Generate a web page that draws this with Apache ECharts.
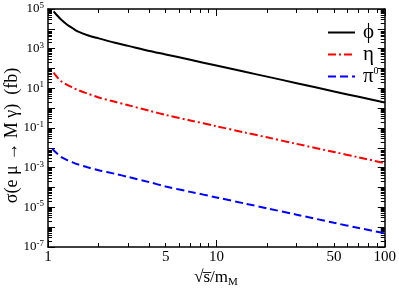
<!DOCTYPE html>
<html><head><meta charset="utf-8">
<script src="https://cdn.jsdelivr.net/npm/echarts@6/dist/echarts.min.js"></script>
<style>html,body{margin:0;padding:0;background:#fff}#c{width:399px;height:290px}</style>
</head><body><div id="c"></div>
<script>
// x = sqrt(s)/m_M
const xMain = [1.08,1.1,1.15,1.2,1.3,1.4,1.5,1.7,2,2.5,3,4,5,7,10,15,20,30,50,70,100];
const phiValues = [75900,63100,41700,28800,16200,10700,7410,4900,3310,2000,1380,759,513,275,141,66,38.9,18.2,6.92,3.72,1.91];
const etaValues = [63.1,50.1,31.6,22.4,15.1,11.0,8.32,5.62,3.47,2.09,1.41,0.741,0.457,0.240,0.123,0.0575,0.0339,0.0158,0.00617,0.00331,0.0017];
const xPi = [1.06,1.08,1.1,1.15,1.2,1.3,1.4,1.5,1.7,2,2.5,3,4,5,7,10,15,20,30,50,70,100];
const piValues = [0.00912,0.00759,0.00646,0.00457,0.00339,0.0024,0.00186,0.00148,0.00107,7.41e-4,4.90e-4,3.39e-4,1.86e-4,1.12e-4,6.03e-5,3.16e-5,1.51e-5,8.91e-6,4.27e-6,1.66e-6,9.12e-7,4.90e-7];

const seriesNames = ['ϕ','η','π0'];
const xTickLabels = [1,5,10,50,100];
const xMajorTicks = [1,10,100];
const yTickLabels = [1e-7,1e-5,1e-3,1e-1,1e1,1e3,1e5];

const yMajorTicks = [];
const yMinorTicks = [];
for (let n = -7; n <= 5; n++) {
  yMajorTicks.push(Math.pow(10, n));
  if (n < 5) for (let k = 2; k <= 9; k++) yMinorTicks.push(k * Math.pow(10, n));
}
const xMinorTicks = [];
for (let n = 0; n < 2; n++) for (let k = 2; k <= 9; k++) xMinorTicks.push(k * Math.pow(10, n));

const serif = 'Liberation Serif';
const pair = (xs, ys) => xs.map((x, i) => [x, ys[i]]);

function xAx(pos, ticks, len, labels) {
  return {
    type: 'log', min: 1, max: 100, position: pos, gridIndex: 0,
    axisLine: { show: len > 5, lineStyle: { color: '#000', width: 1.5 } },
    axisTick: { show: true, inside: true, length: len, customValues: ticks, lineStyle: { color: '#000', width: 1 } },
    axisLabel: labels ? { show: true, customValues: xTickLabels, margin: 3, color: '#000', fontFamily: serif, fontSize: 15 } : { show: false },
    splitLine: { show: false }, minorTick: { show: false }
  };
}
function yAx(pos, ticks, len, labels) {
  return {
    type: 'log', min: 1e-7, max: 1e5, position: pos, gridIndex: 0,
    axisLine: { show: len > 5, lineStyle: { color: '#000', width: 1.5 } },
    axisTick: { show: true, inside: true, length: len, customValues: ticks, lineStyle: { color: '#000', width: 1 } },
    axisLabel: labels ? {
      show: true, customValues: yTickLabels, margin: 4,
      formatter: v => '{b|10}{s|' + Math.round(Math.log10(v)) + '}',
      rich: {
        b: { fontFamily: serif, fontSize: 13, color: '#000', lineHeight: 16, verticalAlign: 'middle' },
        s: { fontFamily: serif, fontSize: 9, color: '#000', lineHeight: 9, verticalAlign: 'top' }
      }
    } : { show: false },
    splitLine: { show: false }, minorTick: { show: false }
  };
}

const chart = echarts.init(document.getElementById('c'), null, { renderer: 'canvas' });
chart.setOption({
  animation: false,
  backgroundColor: '#fff',
  grid: { left: 48, right: 12, top: 9, bottom: 43 },
  xAxis: [
    xAx('bottom', xMajorTicks, 7, true),
    xAx('bottom', xMinorTicks, 4, false),
    xAx('top', xMajorTicks, 7, false),
    xAx('top', xMinorTicks, 4, false)
  ],
  yAxis: [
    yAx('left', yMajorTicks, 7, true),
    yAx('left', yMinorTicks, 4, false),
    yAx('right', yMajorTicks, 7, false),
    yAx('right', yMinorTicks, 4, false)
  ],
  legend: {
    orient: 'vertical', left: 322, top: 17, itemWidth: 27, itemHeight: 14, itemGap: 1,
    data: seriesNames,
    itemStyle: { opacity: 0 },
    formatter: n => n === 'π0' ? '{a|π}{s|0}' : '{a|' + n + '}',
    textStyle: {
      padding: [0, 0, 0, 3],
      rich: {
        a: { fontFamily: serif, fontSize: 21, color: '#000', lineHeight: 20, verticalAlign: 'middle' },
        s: { fontFamily: serif, fontSize: 10, color: '#000', lineHeight: 10, verticalAlign: 'top' }
      }
    }
  },
  series: [
    { name: seriesNames[0], type: 'line', symbol: 'none', data: pair(xMain, phiValues), smooth: 0.3,
      lineStyle: { color: '#000', width: 2 }, itemStyle: { color: '#000' } },
    { name: seriesNames[1], type: 'line', symbol: 'none', data: pair(xMain, etaValues), smooth: 0.3,
      lineStyle: { color: '#ff0000', width: 2, type: [8, 3, 2, 3] }, itemStyle: { color: '#ff0000' } },
    { name: seriesNames[2], type: 'line', symbol: 'none', data: pair(xPi, piValues), smooth: 0.3,
      lineStyle: { color: '#0000ff', width: 2, type: [8, 4] }, itemStyle: { color: '#0000ff' } }
  ],
  graphic: [
    { type: 'text', x: 12.5, y: 135.5, rotation: Math.PI / 2,
      style: { text: 'σ(e μ → M γ)  (fb)', align: 'center', verticalAlign: 'middle', fontFamily: serif, fontSize: 18, fill: '#000' } },
    { type: 'text', x: 216, y: 278,
      style: { text: '{a|√s\u0305/m}{b|M}', align: 'center', verticalAlign: 'middle',
        rich: {
          a: { fontFamily: serif, fontSize: 17, fill: '#000', lineHeight: 20, verticalAlign: 'middle' },
          b: { fontFamily: serif, fontSize: 11, fill: '#000', lineHeight: 11, verticalAlign: 'bottom' }
        } } }
  ]
});
</script></body></html>
